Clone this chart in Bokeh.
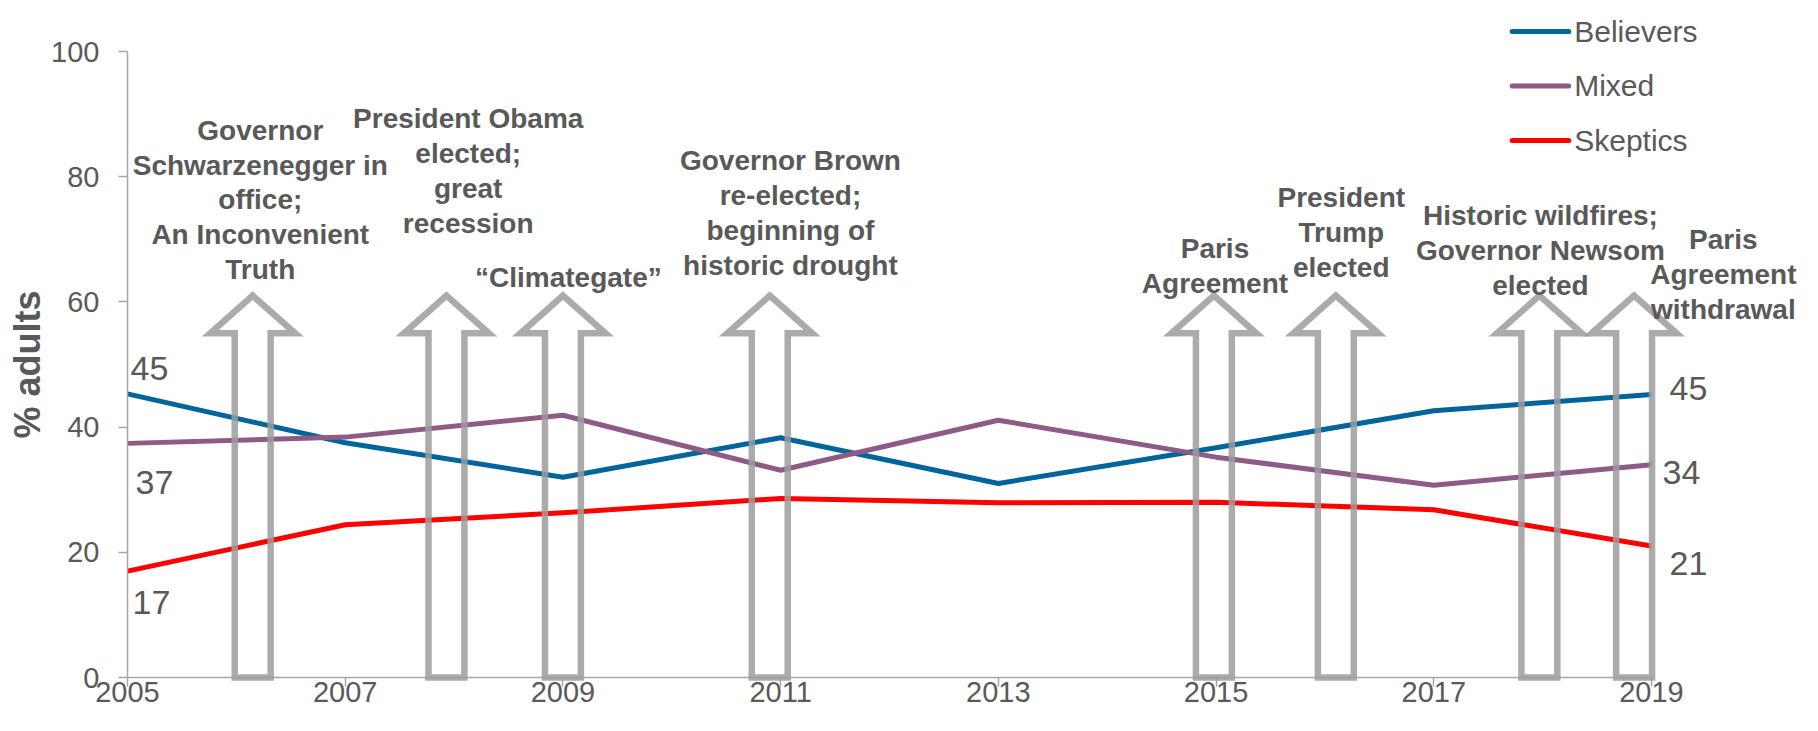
from bokeh.plotting import figure
from bokeh.models import Range1d, FixedTicker, ColumnDataSource
from bokeh.core.properties import value
from bokeh.embed import file_html
from bokeh.resources import INLINE

# ---------------- data ----------------
years = [2005, 2007, 2009, 2011, 2013, 2015, 2017, 2019]
believers = [45.3, 37.5, 32.0, 38.3, 31.0, 36.7, 42.6, 45.2]
mixed = [37.4, 38.4, 41.9, 33.1, 41.1, 35.2, 30.7, 34.0]
skeptics = [17.0, 24.4, 26.3, 28.6, 27.9, 28.0, 26.8, 21.0]
series_names = ["Believers", "Mixed", "Skeptics"]
series_colors = ["#00659A", "#8E5B86", "#FF0000"]

x_ticks = [2005, 2007, 2009, 2011, 2013, 2015, 2017, 2019]
y_ticks = [0, 20, 40, 60, 80, 100]
y_label = "% adults"

event_texts = [
    "Governor\nSchwarzenegger in\noffice;\nAn Inconvenient\nTruth",
    "President Obama\nelected;\ngreat\nrecession",
    "\u201cClimategate\u201d",
    "Governor Brown\nre-elected;\nbeginning of\nhistoric drought",
    "Paris\nAgreement",
    "President\nTrump\nelected",
    "Historic wildfires;\nGovernor Newsom\nelected",
    "Paris\nAgreement\nwithdrawal",
]
event_arrow_x = [2006.15, 2007.93, 2009.0, 2010.9, 2014.98, 2016.1, 2017.97, 2018.84]
event_text_x = [2006.22, 2008.13, 2009.05, 2011.09, 2014.99, 2016.15, 2017.98, 2019.66]
event_text_y = [76.3, 80.9, 63.9, 74.2, 65.75, 71.1, 68.2, 64.4]

# legend placement (data units, top right corner of the chart)
legend_x0 = 2017.72
legend_x1 = 2018.24
legend_tx = 2018.29
legend_y = [103.2, 94.5, 85.8]

# ---------------- style ----------------
TEXT = "#595959"
AXIS = "#A6A6A6"
FONT = "Liberation Sans"

p = figure(width=1802, height=715, output_backend="svg", toolbar_location=None,
           x_range=Range1d(2005, 2019), y_range=Range1d(0, 100))
p.min_border_left = 127
p.min_border_right = 151
p.min_border_top = 51
p.min_border_bottom = 38
p.outline_line_color = None
p.xgrid.visible = False
p.ygrid.visible = False
p.background_fill_color = "white"
p.border_fill_color = "white"

for ax in (p.xaxis[0], p.yaxis[0]):
    ax.axis_line_color = AXIS
    ax.axis_line_width = 1.5
    ax.major_tick_line_color = AXIS
    ax.major_tick_line_width = 1.5
    ax.major_tick_out = 9
    ax.major_tick_in = 0
    ax.minor_tick_line_color = None
    ax.major_label_text_color = TEXT
    ax.major_label_text_font = FONT
    ax.major_label_text_font_size = "29px"

p.xaxis.ticker = FixedTicker(ticks=x_ticks)
p.xaxis.major_label_standoff = -5
p.yaxis.ticker = FixedTicker(ticks=y_ticks)
p.yaxis.major_label_standoff = 19
p.yaxis.axis_label = y_label
p.yaxis.axis_label_text_font = FONT
p.yaxis.axis_label_text_font_style = "bold"
p.yaxis.axis_label_text_font_size = "36px"
p.yaxis.axis_label_text_color = TEXT
p.yaxis.axis_label_standoff = 0

# ---------------- series ----------------
all_series = [believers, mixed, skeptics]
for name, vals, col in zip(series_names, all_series, series_colors):
    src = ColumnDataSource(dict(x=years, y=vals))
    p.line("x", "y", source=src, line_color=col, line_width=5,
           line_join="round", line_cap="round")

# ---------------- legend (drawn as overlay so it may leave the frame) ----------------
leg_src = ColumnDataSource(dict(
    x0=[legend_x0] * 3, x1=[legend_x1] * 3, tx=[legend_tx] * 3,
    y=legend_y, c=series_colors, t=series_names))
rs = p.segment("x0", "y", "x1", "y", source=leg_src, line_color="c",
               line_width=5, line_cap="round")
rs.level = "overlay"
rlt = p.text("tx", "y", text="t", source=leg_src, text_font=value(FONT),
             text_font_size="30px", text_color=TEXT, text_align="left",
             text_baseline="middle")
rlt.level = "overlay"

# ---------------- end labels ----------------
left_dx = [3, 8, 5]
left_dy = [-25, 39, 31]
right_dx = [18, 11, 18]
right_dy = [-6, 8, 17]
end_src = ColumnDataSource(dict(
    x=[years[0]] * 3 + [years[-1]] * 3,
    y=[s[0] for s in all_series] + [s[-1] for s in all_series],
    t=[str(round(s[0])) for s in all_series] + [str(round(s[-1])) for s in all_series],
    dx=left_dx + right_dx,
    dy=left_dy + right_dy,
))
rl = p.text("x", "y", text="t", source=end_src, x_offset="dx", y_offset="dy",
            text_font=value(FONT), text_font_size="34px", text_color=TEXT,
            text_align="left", text_baseline="middle")
rl.level = "overlay"

# ---------------- event arrows ----------------
HW_SHAFT = 0.165
HW_HEAD = 0.39
TIP = 61.0
BASE = 55.0
BOTTOM = 0.0
xs, ys = [], []
for c in event_arrow_x:
    xs.append([c - HW_SHAFT, c - HW_SHAFT, c - HW_HEAD, c, c + HW_HEAD, c + HW_SHAFT, c + HW_SHAFT])
    ys.append([BOTTOM, BASE, BASE, TIP, BASE, BASE, BOTTOM])
ra = p.patches(xs, ys, fill_alpha=0, line_color="#9C9C9C", line_alpha=0.85,
               line_width=6.5, line_join="miter")
ra.level = "overlay"

ev_src = ColumnDataSource(dict(x=event_text_x, y=event_text_y, t=event_texts))
rt = p.text("x", "y", text="t", source=ev_src, text_font=value(FONT),
            text_font_size="28px", text_font_style="bold", text_color=TEXT,
            text_align="center", text_baseline="middle", text_line_height=1.12)
rt.level = "overlay"

open("out.html", "w").write(file_html(p, INLINE))
